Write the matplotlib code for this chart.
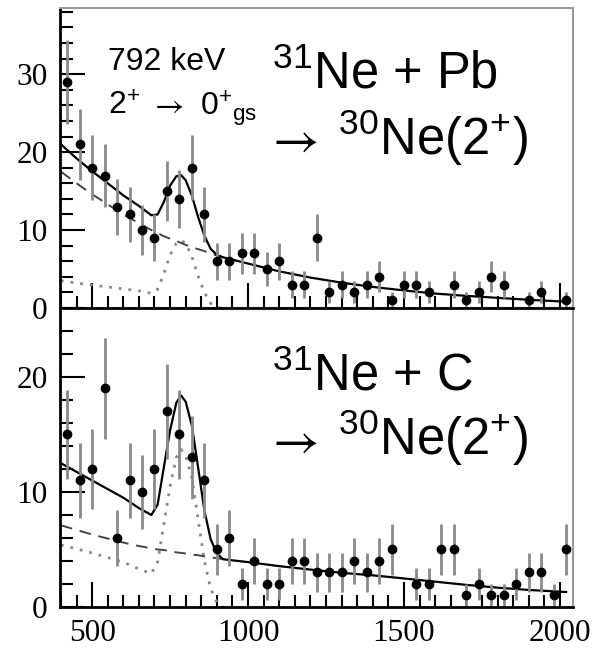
import matplotlib
matplotlib.use('Agg')
import matplotlib.pyplot as plt
from matplotlib.ticker import MultipleLocator

plt.rcParams['mathtext.fontset'] = 'custom'
plt.rcParams['mathtext.rm'] = 'Liberation Sans'
plt.rcParams['mathtext.it'] = 'Liberation Sans:italic'
plt.rcParams['mathtext.default'] = 'regular'

# gamma energies (keV) and counts, 31Ne + Pb
e_pb = [420, 460, 500, 540, 580, 620, 660, 700, 740, 780, 820, 860, 900, 940, 980,
        1020, 1060, 1100, 1140, 1180, 1220, 1260, 1300, 1340, 1380, 1420, 1460, 1500,
        1540, 1580, 1660, 1700, 1740, 1780, 1820, 1900, 1940, 2020]
n_pb = [29, 21, 18, 17, 13, 12, 10, 9, 15, 14, 18, 12, 6, 6, 7,
        7, 5, 6, 3, 3, 9, 2, 3, 2, 3, 4, 1, 3,
        3, 2, 3, 1, 2, 4, 3, 1, 2, 1]
err_pb = [5.4, 4.6, 4.2, 4.1, 3.6, 3.5, 3.2, 3.0, 3.9, 3.7, 4.2, 3.5, 2.4, 2.4, 2.6,
          2.6, 2.2, 2.4, 1.7, 1.7, 3.0, 1.4, 1.7, 1.4, 1.7, 2.0, 1.0, 1.7,
          1.7, 1.4, 1.7, 1.0, 1.4, 2.0, 1.7, 1.0, 1.4, 1.0]

# 31Ne + C
e_c = [420, 460, 500, 540, 580, 620, 660, 700, 740, 780, 820, 860, 900, 940, 980,
       1020, 1060, 1100, 1140, 1180, 1220, 1260, 1300, 1340, 1380, 1420, 1460,
       1540, 1580, 1620, 1660, 1700, 1740, 1780, 1820, 1860, 1900, 1940, 1980, 2020]
n_c = [15, 11, 12, 19, 6, 11, 10, 12, 17, 15, 13, 11, 5, 6, 2,
       4, 2, 2, 4, 4, 3, 3, 3, 4, 3, 4, 5,
       2, 2, 5, 5, 1, 2, 1, 1, 2, 3, 3, 1, 5]
err_c = [3.9, 3.3, 3.5, 4.4, 2.4, 3.3, 3.2, 3.5, 4.1, 3.9, 3.6, 3.3, 2.2, 2.4, 1.4,
         2.0, 1.4, 1.4, 2.0, 2.0, 1.7, 1.7, 1.7, 2.0, 1.7, 2.0, 2.2,
         1.4, 1.4, 2.2, 2.2, 1.0, 1.4, 1.0, 1.0, 1.4, 1.7, 1.7, 1.0, 2.2]

# fit curves
e_fit = [400, 450, 500, 550, 600, 650, 690, 710, 730, 750, 770, 785, 800, 820, 840,
         860, 880, 900, 920, 1000, 1100, 1200, 1300, 1400, 1500, 1600, 1700, 1800,
         1900, 2020]
bg_pb = [17.5, 16.0, 14.6, 13.3, 12.0, 10.9, 10.0, 9.6, 9.2, 8.9, 8.6, 8.35, 8.1, 7.8, 7.55,
         7.3, 7.0, 6.75, 6.5, 5.7, 4.7, 3.9, 3.25, 2.7, 2.25, 1.85, 1.55, 1.3,
         1.05, 0.8]
resp_pb = [3.5, 3.2, 2.95, 2.7, 2.45, 2.2, 1.9, 2.4, 4.4, 6.8, 8.3, 8.7, 8.3, 6.6, 4.1,
           2.0, 0.6, 0.05, 0.0, 0, 0, 0, 0, 0, 0, 0, 0, 0,
           0, 0]
bg_c = [7.1, 6.7, 6.3, 5.95, 5.6, 5.3, 5.1, 5.0, 4.95, 4.85, 4.75, 4.7, 4.65, 4.55, 4.5,
        4.4, 4.3, 4.25, 4.15, 3.9, 3.55, 3.25, 2.97, 2.75, 2.48, 2.2, 1.92, 1.68,
        1.48, 1.3]
resp_c = [5.4, 5.05, 4.7, 4.3, 3.9, 3.3, 2.9, 3.9, 7.2, 10.5, 13.0, 13.7, 13.2, 11.2, 7.6,
          4.0, 1.6, 0.4, 0.0, 0, 0, 0, 0, 0, 0, 0, 0, 0,
          0, 0]

fig = plt.figure(figsize=(6, 6.5), dpi=100)
ax1 = fig.add_axes([0.1, 0.5262, 0.855, 0.4615])
ax2 = fig.add_axes([0.1, 0.0662, 0.855, 0.46])

panels = [(ax1, e_pb, n_pb, err_pb, bg_pb, resp_pb, 38.5, 10),
          (ax2, e_c, n_c, err_c, bg_c, resp_c, 26, 10)]
ncut = 19
for ax, e, n, err, bg, resp, ytop, ymaj in panels:
    tot = [b + r for b, r in zip(bg, resp)]
    ax.plot(e_fit[:ncut], resp[:ncut], color='#888888', lw=2, ls=(0, (1, 2.5)))
    ax.plot(e_fit[:ncut], bg[:ncut], color='#444444', lw=1.4, ls=(0, (6, 4)))
    ax.plot(e_fit, tot, color='black', lw=1.6)
    ax.errorbar(e, n, yerr=err, fmt='o', color='black', ecolor='#8a8a8a',
                elinewidth=2, markersize=6, capsize=0)
    ax.set_xlim(397, 2042)
    ax.set_ylim(0, ytop)
    ax.xaxis.set_major_locator(MultipleLocator(500))
    ax.xaxis.set_minor_locator(MultipleLocator(50))
    ax.yaxis.set_major_locator(MultipleLocator(ymaj))
    ax.yaxis.set_minor_locator(MultipleLocator(2))
    ax.tick_params(which='both', direction='in', top=False, right=False, width=1.5)
    ax.tick_params(which='major', length=18, pad=9)
    ax.tick_params(which='minor', length=9)
    for lab in ax.get_xticklabels() + ax.get_yticklabels():
        lab.set_fontfamily('Liberation Serif')
        lab.set_fontsize(22.5)
    ax.spines['left'].set_linewidth(2)
    ax.spines['bottom'].set_linewidth(2)
    ax.spines['top'].set_color('#999999')
    ax.spines['right'].set_color('#999999')
    ax.spines['top'].set_linewidth(1.5)
    ax.spines['right'].set_linewidth(1.5)

ax1.tick_params(axis='x', labelbottom=False)
ax1.set_zorder(2)
ax1.patch.set_alpha(0)

sans = ['Liberation Sans', 'DejaVu Sans']
arrow_font = 'STIXGeneral'

def label(ax, x, y, s, size, fam=sans):
    ax.text(x, y, s, transform=ax.transAxes, fontsize=size, family=fam,
            va='baseline')

label(ax1, 0.094, 0.793, '792 keV', 23)
label(ax1, 0.094, 0.643, r'2$^{+}$', 23)
label(ax1, 0.185, 0.643, '→', 23, arrow_font)
label(ax1, 0.273, 0.643, r'0$^{+}{}_{gs}$', 23)

label(ax1, 0.413, 0.733, r'$^{31}$Ne + Pb', 36.5)
label(ax1, 0.415, 0.51, '→', 36.5, arrow_font)
label(ax1, 0.542, 0.51, r'$^{30}$Ne(2$^{+}$)', 36.5)

label(ax2, 0.413, 0.725, r'$^{31}$Ne + C', 36.5)
label(ax2, 0.415, 0.507, '→', 36.5, arrow_font)
label(ax2, 0.542, 0.507, r'$^{30}$Ne(2$^{+}$)', 36.5)

plt.savefig('out.png', dpi=100)
